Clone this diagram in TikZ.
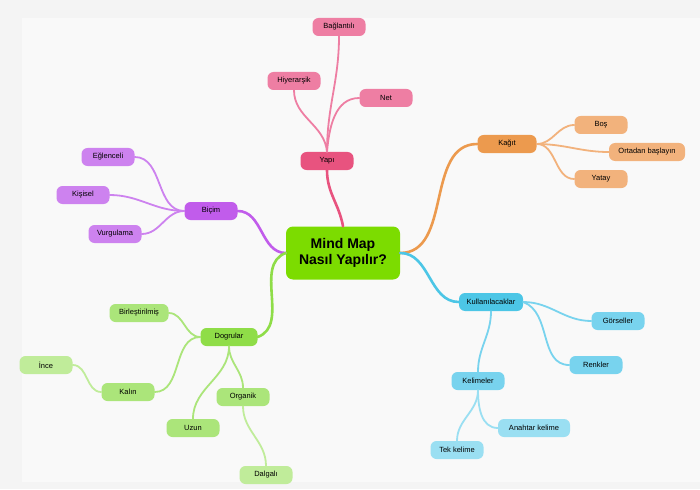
\documentclass[tikz,border=0pt]{standalone}
\usepackage{fontspec}
\setmainfont{Liberation Sans}
\definecolor{bgout}{HTML}{F4F4F4}
\definecolor{bgin}{HTML}{F9F9F9}
\definecolor{mainc}{HTML}{7CDC00}
\definecolor{pinkA}{HTML}{E8537F}
\definecolor{pinkB}{HTML}{EE7EA3}
\definecolor{purpA}{HTML}{C15CEB}
\definecolor{purpB}{HTML}{CD82EF}
\definecolor{oranA}{HTML}{EC9A4E}
\definecolor{oranB}{HTML}{F2B27C}
\definecolor{cyanA}{HTML}{4CC6E6}
\definecolor{cyanB}{HTML}{78D3EE}
\definecolor{cyanC}{HTML}{9ADFF2}
\definecolor{grenA}{HTML}{8FDD48}
\definecolor{grenB}{HTML}{ABE57A}
\definecolor{grenC}{HTML}{C0EC9A}
\tikzset{
  topic/.style={rounded corners=6pt, minimum width=53pt, minimum height=18pt,
    inner sep=2pt, font=\fontsize{7.5}{8}\selectfont},
  centre/.style={rounded corners=7pt, minimum width=114pt, minimum height=53pt,
    fill=mainc, align=center, font=\fontsize{14}{16}\selectfont\bfseries},
  trunk/.style={line width=2.6pt, line cap=round},
  twig/.style={line width=1.8pt, line cap=round}
}
\begin{document}
\begin{tikzpicture}[x=1pt,y=-1pt]
\useasboundingbox (0,0) rectangle (700,489);
\fill[bgout] (0,0) rectangle (700,489);
\fill[bgin] (22,18) rectangle (700,482);
% centre
\node[centre] (c) at (343,253) {Mind Map\\Nasıl Yapılır?};
% Yapi
\node[topic,fill=pinkA] (yapi) at (327,161) {Yapı};
\node[topic,fill=pinkB] (bag) at (339,27) {Bağlantılı};
\node[topic,fill=pinkB] (hiy) at (294,81) {Hiyerarşik};
\node[topic,fill=pinkB] (net) at (386,98) {Net};
% Bicim
\node[topic,fill=purpA] (bic) at (211,211) {Biçim};
\node[topic,fill=purpB] (egl) at (108,157) {Eğlenceli};
\node[topic,fill=purpB] (kis) at (83,195) {Kişisel};
\node[topic,fill=purpB] (vur) at (115,234) {Vurgulama};
% Kagit
\node[topic,fill=oranA,minimum width=59pt] (kag) at (507,144) {Kağıt};
\node[topic,fill=oranB] (bos) at (601,125) {Boş};
\node[topic,fill=oranB,minimum width=76pt] (ort) at (647,152) {Ortadan başlayın};
\node[topic,fill=oranB] (yat) at (601,179) {Yatay};
% Kullanilacaklar
\node[topic,fill=cyanA,minimum width=64pt] (kul) at (491,302) {Kullanılacaklar};
\node[topic,fill=cyanB] (gor) at (618,321) {Görseller};
\node[topic,fill=cyanB] (ren) at (596,365) {Renkler};
\node[topic,fill=cyanB] (kel) at (478,381) {Kelimeler};
\node[topic,fill=cyanC,minimum width=72pt] (anh) at (534,428) {Anahtar kelime};
\node[topic,fill=cyanC] (tek) at (457,450) {Tek kelime};
% Dogrular
\node[topic,fill=grenA,minimum width=57pt] (dog) at (229,337) {Dogrular};
\node[topic,fill=grenB,minimum width=59pt] (bir) at (139,313) {Birleştirilmiş};
\node[topic,fill=grenB] (kal) at (128,392) {Kalın};
\node[topic,fill=grenC] (inc) at (46,365) {İnce};
\node[topic,fill=grenB] (org) at (243,397) {Organik};
\node[topic,fill=grenB] (uzu) at (193,428) {Uzun};
\node[topic,fill=grenC] (dal) at (266,475) {Dalgalı};
% branches
\draw[trunk,pinkA] (c.north) to[out=100,in=-90] (yapi.south);
\draw[trunk,purpA] (c.west) to[out=180,in=0] (bic.east);
\draw[trunk,oranA] (c.east) to[out=0,in=180] (kag.west);
\draw[trunk,cyanA] (c.east) to[out=0,in=180] (kul.west);
\draw[trunk,grenA] (c.west) to[out=200,in=20] (dog.east);
\draw[twig,pinkB] (yapi.north) to[out=90,in=-90] (bag.south);
\draw[twig,pinkB] (yapi.north) to[out=95,in=-90] (hiy.south);
\draw[twig,pinkB] (yapi.north) to[out=85,in=180] (net.west);
\draw[twig,purpB] (bic.west) to[out=180,in=0] (egl.east);
\draw[twig,purpB] (bic.west) to[out=180,in=0] (kis.east);
\draw[twig,purpB] (bic.west) to[out=180,in=0] (vur.east);
\draw[twig,oranB] (kag.east) to[out=0,in=180] (bos.west);
\draw[twig,oranB] (kag.east) to[out=0,in=180] (ort.west);
\draw[twig,oranB] (kag.east) to[out=0,in=180] (yat.west);
\draw[twig,cyanB] (kul.east) to[out=0,in=180] (gor.west);
\draw[twig,cyanB] (kul.east) to[out=-20,in=180] (ren.west);
\draw[twig,cyanB] (kul.south) to[out=-90,in=90] (kel.north);
\draw[twig,cyanC] (kel.south) to[out=-90,in=180] (anh.west);
\draw[twig,cyanC] (kel.south) to[out=-90,in=90] (tek.north);
\draw[twig,grenB] (dog.west) to[out=180,in=0] (bir.east);
\draw[twig,grenB] (dog.west) to[out=180,in=0] (kal.east);
\draw[twig,grenB] (dog.south) to[out=-90,in=90] (uzu.north);
\draw[twig,grenB] (dog.south) to[out=-90,in=90] (org.north);
\draw[twig,grenC] (kal.west) to[out=180,in=0] (inc.east);
\draw[twig,grenC] (org.south) to[out=-90,in=90] (dal.north);
\end{tikzpicture}
\end{document}
